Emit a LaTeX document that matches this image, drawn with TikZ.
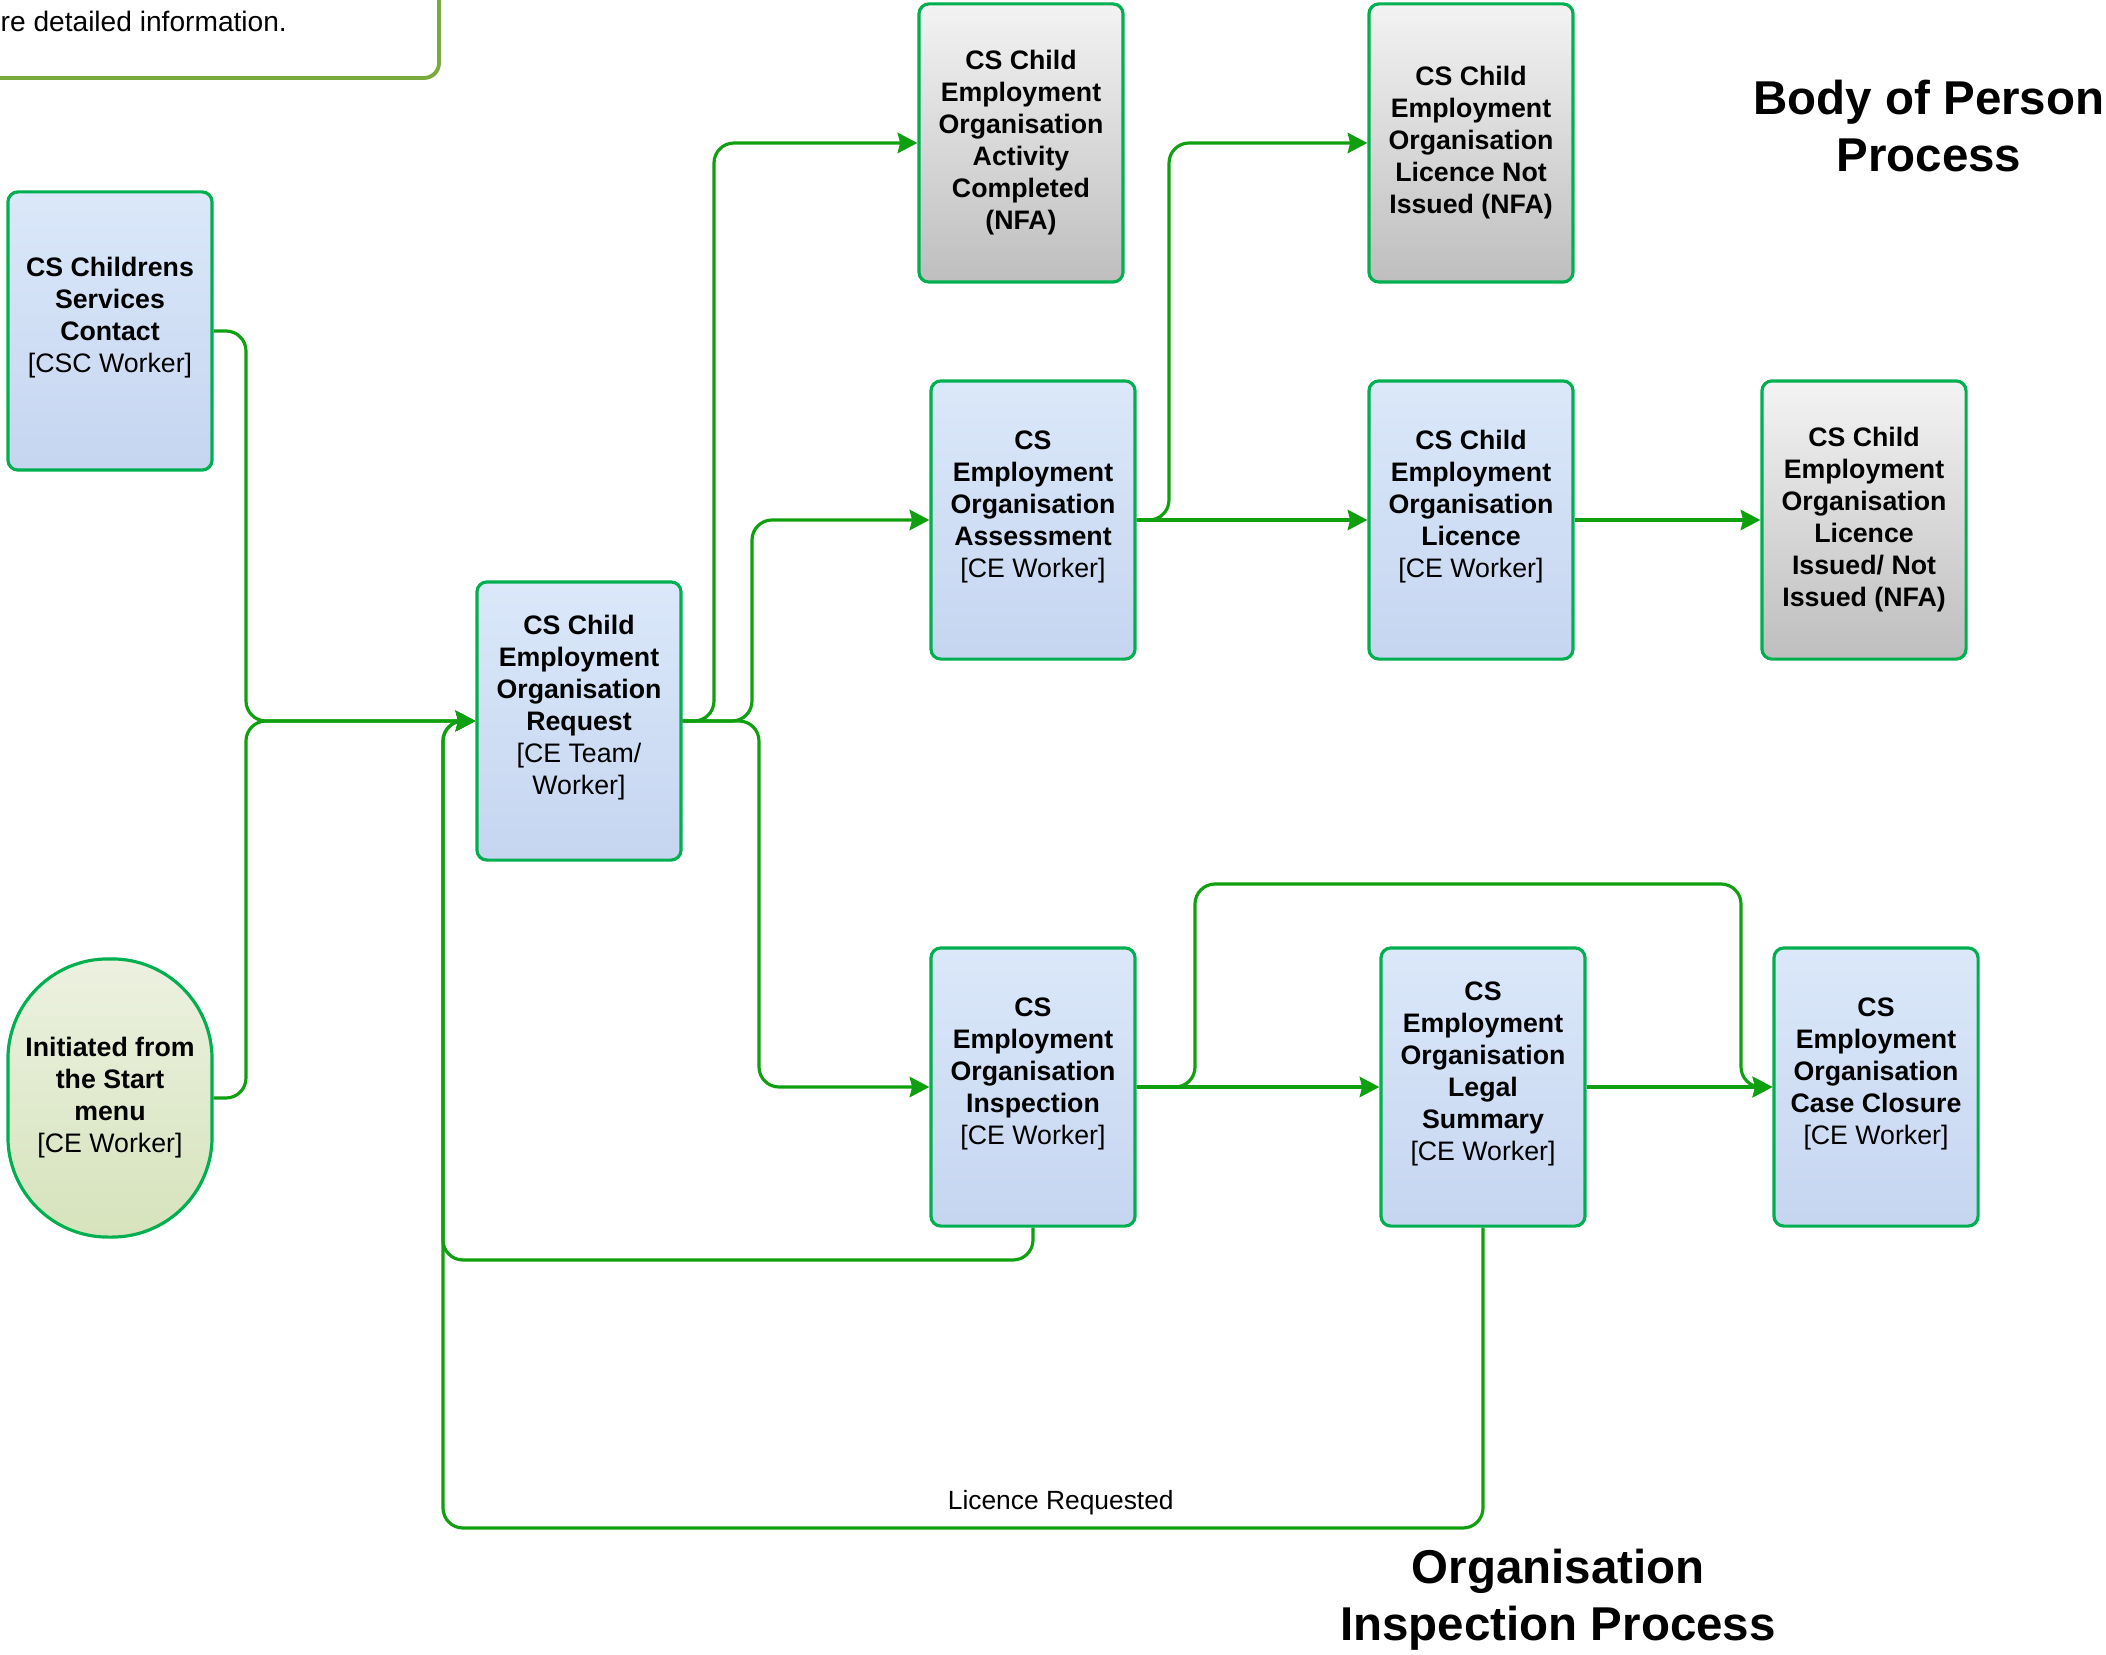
\documentclass[tikz,border=0pt]{standalone}
\usepackage{fontspec}
\setmainfont{Liberation Sans}
\usepackage{tikz}
\usetikzlibrary{arrows.meta}

\definecolor{lineGreen}{RGB}{15,160,15}
\definecolor{edgeGreen}{RGB}{0,176,80}
\definecolor{noteGreen}{RGB}{120,170,60}
\definecolor{blueTop}{RGB}{219,232,250}
\definecolor{blueBot}{RGB}{198,213,240}
\definecolor{greyTop}{RGB}{243,243,243}
\definecolor{greyBot}{RGB}{190,190,190}
\definecolor{startTop}{RGB}{236,241,224}
\definecolor{startBot}{RGB}{214,227,188}

% worker line under a box title, plus a spare line so the text sits high
\newcommand{\role}[1]{\\\mdseries[#1]\\\mbox{}}

\tikzset{
  box/.style={draw=edgeGreen, line width=0.9pt, rounded corners=0.1cm,
    minimum width=2.04cm, minimum height=2.78cm, inner sep=0pt,
    align=center, font=\fontsize{7.6}{9.1}\selectfont\bfseries},
  blueBox/.style={box, top color=blueTop, bottom color=blueBot},
  greyBox/.style={box, top color=greyTop, bottom color=greyBot},
  startBox/.style={box, rounded corners=1cm, top color=startTop, bottom color=startBot},
  flow/.style={draw=lineGreen, line width=0.9pt, rounded corners=0.2cm,
    -{Stealth[length=5.6pt,width=5.8pt,inset=0.7pt]}},
  heading/.style={align=center, font=\fontsize{13.5}{16.2}\selectfont\bfseries}
}

\begin{document}
\begin{tikzpicture}[x=0.01cm,y=-0.01cm]
\useasboundingbox (0,0) rectangle (2106,1655);

% note box, cut by the page edge
\draw[noteGreen, line width=1.1pt, rounded corners=0.15cm] (-60,-60) rectangle (439,78);
\node[anchor=west, inner sep=0pt, font=\fontsize{8}{9.6}\selectfont](note) at (0,21){re detailed information.};

\node[heading](bodyTitle) at (1929,126){Body of Person\\Process};
\node[heading](inspTitle) at (1558,1600){Organisation\\Inspection Process};

\node[blueBox](csc) at (110,331){CS Childrens\\Services\\Contact\role{CSC Worker}};
\node[startBox](startMenu) at (110,1098){Initiated from\\the Start\\menu\\\mdseries[CE Worker]};
\node[blueBox](request) at (579,721){CS Child\\Employment\\Organisation\\Request\\\mdseries[CE Team/\\\mdseries Worker]\\\mbox{}};

\node[greyBox](activity) at (1021,143){CS Child\\Employment\\Organisation\\Activity\\Completed\\(NFA)};
\node[greyBox](licNot) at (1471,143){CS Child\\Employment\\Organisation\\Licence Not\\Issued (NFA)};

\node[blueBox](assess) at (1033,520){CS\\Employment\\Organisation\\Assessment\role{CE Worker}};
\node[blueBox](licence) at (1471,520){CS Child\\Employment\\Organisation\\Licence\role{CE Worker}};
\node[greyBox](issued) at (1864,520){CS Child\\Employment\\Organisation\\Licence\\Issued/ Not\\Issued (NFA)};

\node[blueBox](inspect) at (1033,1087){CS\\Employment\\Organisation\\Inspection\role{CE Worker}};
\node[blueBox](legal) at (1483,1087){CS\\Employment\\Organisation\\Legal\\Summary\role{CE Worker}};
\node[blueBox](closure) at (1876,1087){CS\\Employment\\Organisation\\Case Closure\role{CE Worker}};

\draw[flow] (csc.east) -| (246,721) -- (request.west);
\draw[flow] (startMenu.east) -| (246,721) -- (request.west);

\draw[flow] (request.east) -- (714,721) |- (activity.west);
\draw[flow] (request.east) -- (752,721) |- (assess.west);
\draw[flow] (request.east) -- (759,721) |- (inspect.west);
\draw[flow] (assess.east) -- (1169,520) |- (licNot.west);

\path
(assess) edge[flow] (licence)
(licence) edge[flow] (issued)
(inspect) edge[flow] (legal)
(legal) edge[flow] (closure);

\draw[flow] (inspect.east) -- (1195,1087) |- (1741,884) |- (closure.west);
\draw[flow] (inspect.south) |- (443,1260) -- (443,721) -- (request.west);
\draw[flow] (legal.south) |- node[pos=0.703, above, font=\fontsize{7.5}{9}\selectfont](licReq){Licence Requested} (443,1528) -- (443,721) -- (request.west);
\end{tikzpicture}
\end{document}
